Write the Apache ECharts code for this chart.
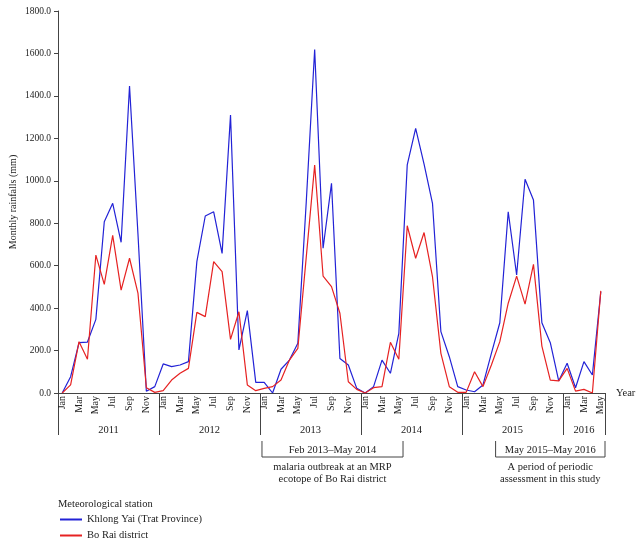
<!DOCTYPE html>
<html>
<head>
<meta charset="utf-8">
<script src="https://cdn.jsdelivr.net/npm/echarts@6/dist/echarts.min.js"></script>
<style>html,body{margin:0;padding:0;background:#fff}#c{width:642px;height:546px}</style>
</head>
<body>
<div id="c"></div>
<script>
// ---- data ----
const years = ['2011', '2012', '2013', '2014', '2015', '2016'];
const monthsInYear = [12, 12, 12, 12, 12, 5];
const monthNames = ['Jan','Feb','Mar','Apr','May','Jun','Jul','Aug','Sep','Oct','Nov','Dec'];
// Khlong Yai (Trat Province), Jan 2011 – May 2016, monthly rainfall (mm)
const khlongYai = [
  0, 77, 237, 240, 347, 807, 894, 710, 1447, 750, 8, 30,
  137, 124, 132, 148, 619, 834, 854, 658, 1310, 203, 388, 50,
  50, 0, 112, 155, 234, 900, 1619, 682, 988, 163, 132, 22,
  0, 30, 155, 93, 281, 1075, 1247, 1078, 894, 289, 171, 30,
  14, 6, 38, 187, 331, 854, 556, 1007, 909, 331, 237, 57,
  140, 25, 148, 85, 477
];
// Bo Rai district
const boRai = [
  0, 38, 242, 159, 650, 512, 743, 485, 635, 471, 25, 3,
  11, 61, 93, 116, 380, 360, 619, 572, 253, 383, 38, 11,
  22, 30, 61, 155, 210, 640, 1074, 551, 501, 376, 53, 17,
  0, 25, 30, 239, 159, 788, 635, 756, 548, 187, 30, 3,
  3, 100, 30, 132, 242, 423, 551, 419, 606, 221, 61, 57,
  116, 9, 17, 0, 481
];
const yTicks = [0, 200, 400, 600, 800, 1000, 1200, 1400, 1600, 1800];
const periods = [
  { from: 'Feb 2013', to: 'May 2014', label: 'Feb 2013\u2013May 2014', lines: ['malaria outbreak at an MRP', 'ecotope of Bo Rai district'] },
  { from: 'May 2015', to: 'May 2016', label: 'May 2015\u2013May 2016', lines: ['A period of periodic', 'assessment in this study'] }
];

// ---- derived categories ----
const months = [];
const monthKeys = [];
years.forEach((y, yi) => {
  for (let m = 0; m < monthsInYear[yi]; m++) { months.push(monthNames[m]); monthKeys.push(monthNames[m] + ' ' + y); }
});
const nMonths = months.length;
// half-month grid for year separators and centred year labels
const halfCats = [];
for (let k = 0; k <= nMonths * 2; k++) halfCats.push(String(k));
const yearBoundaryHalf = {};
const yearLabelHalf = {};
let acc = 0;
years.forEach((y, yi) => {
  yearBoundaryHalf[acc * 2] = true;
  yearLabelHalf[acc * 2 + monthsInYear[yi]] = y;
  acc += monthsInYear[yi];
});
yearBoundaryHalf[acc * 2] = true;

const FONT = 'Liberation Serif';
const AX = '#444';

const chart = echarts.init(document.getElementById('c'), null, { renderer: 'canvas' });
chart.setOption({
  animation: false,
  backgroundColor: '#fff',
  textStyle: { fontFamily: FONT },
  title: {
    text: 'Meteorological station', left: 58, top: 499, padding: 0,
    textStyle: { fontFamily: FONT, fontSize: 10.5, fontWeight: 'normal', color: '#222' }
  },
  legend: {
    orient: 'vertical', left: 60, top: 514, padding: 0,
    itemWidth: 22, itemHeight: 2, itemGap: 5, icon: 'rect',
    textStyle: { fontFamily: FONT, fontSize: 10.5, color: '#222' },
    data: ['Khlong Yai (Trat Province)', 'Bo Rai district']
  },
  grid: { left: 58, right: 37, top: 11, bottom: 153, containLabel: false, outerBoundsMode: 'none' },
  xAxis: [
    {
      type: 'category', data: months, boundaryGap: true, position: 'bottom',
      name: 'Year', nameLocation: 'end', nameGap: 11, nameMoveOverlap: false,
      nameTextStyle: { fontFamily: FONT, fontSize: 10.5, color: '#222' },
      axisLine: { lineStyle: { color: AX, width: 1 } },
      axisTick: { interval: 0, length: 25, lineStyle: { color: AX } },
      axisLabel: { interval: 1, rotate: 90, margin: 3, fontFamily: FONT, fontSize: 10, color: '#222' },
      splitLine: { show: false }
    },
    {
      type: 'category', data: halfCats, boundaryGap: false, position: 'bottom', offset: 0,
      axisLine: { show: false },
      axisTick: { show: true, length: 42, interval: (i) => !!yearBoundaryHalf[i], lineStyle: { color: AX } },
      axisLabel: { interval: (i) => yearLabelHalf[i] !== undefined, formatter: (v, i) => yearLabelHalf[i] || '', margin: 32, fontFamily: FONT, fontSize: 10.5, color: '#222' },
      splitLine: { show: false }
    }
  ],
  yAxis: {
    type: 'value', min: yTicks[0], max: yTicks[yTicks.length - 1], interval: 200,
    name: 'Monthly rainfalls (mm)', nameLocation: 'middle', nameGap: 40, nameRotate: 90, nameMoveOverlap: false,
    nameTextStyle: { fontFamily: FONT, fontSize: 10, color: '#222' },
    axisLine: { show: true, lineStyle: { color: AX } },
    axisTick: { show: true, length: 4, lineStyle: { color: AX } },
    axisLabel: { margin: 7, fontFamily: FONT, fontSize: 9.5, color: '#222', formatter: (v) => v.toFixed(1) },
    splitLine: { show: false }
  },
  series: [
    { name: 'Khlong Yai (Trat Province)', type: 'line', xAxisIndex: 0, data: khlongYai, symbol: 'none',
      lineStyle: { color: '#2222d6', width: 1.2 }, itemStyle: { color: '#2222d6' } },
    { name: 'Bo Rai district', type: 'line', xAxisIndex: 0, data: boRai, symbol: 'none',
      lineStyle: { color: '#e62222', width: 1.2 }, itemStyle: { color: '#e62222' } }
  ]
});

// ---- period brackets, positioned via axis scales ----
const cx = (i) => chart.convertToPixel({ xAxisIndex: 0 }, i);
const band = cx(1) - cx(0);
const leftEdge = (i) => cx(i) - band / 2;
const rightEdge = (i) => cx(i) + band / 2;
const y0 = chart.convertToPixel({ yAxisIndex: 0 }, 0);
const g = [];
const lineStyle = { stroke: AX, lineWidth: 1 };
periods.forEach((p, pi) => {
  const a = monthKeys.indexOf(p.from), b = monthKeys.indexOf(p.to);
  // first bracket starts at the year separator of its year
  let x1 = pi === 0 ? leftEdge(a - 1) + 2 : leftEdge(a);
  const x2 = rightEdge(b);
  const yt = y0 + 48, yb = y0 + 64;
  g.push({ type: 'polyline', shape: { points: [[x1, yt], [x1, yb], [x2, yb], [x2, yt]] }, style: Object.assign({ fill: null }, lineStyle), silent: true });
  const xm = (x1 + x2) / 2;
  g.push({ type: 'text', x: xm, y: y0 + 57, style: { text: p.label, fill: '#222', font: '10.5px "' + FONT + '"', align: 'center', verticalAlign: 'middle' } });
  p.lines.forEach((t, li) => {
    g.push({ type: 'text', x: xm, y: y0 + 74.5 + li * 11.5, style: { text: t, fill: '#222', font: '10.5px "' + FONT + '"', align: 'center', verticalAlign: 'middle' } });
  });
});
chart.setOption({ graphic: g });
</script>
</body>
</html>
